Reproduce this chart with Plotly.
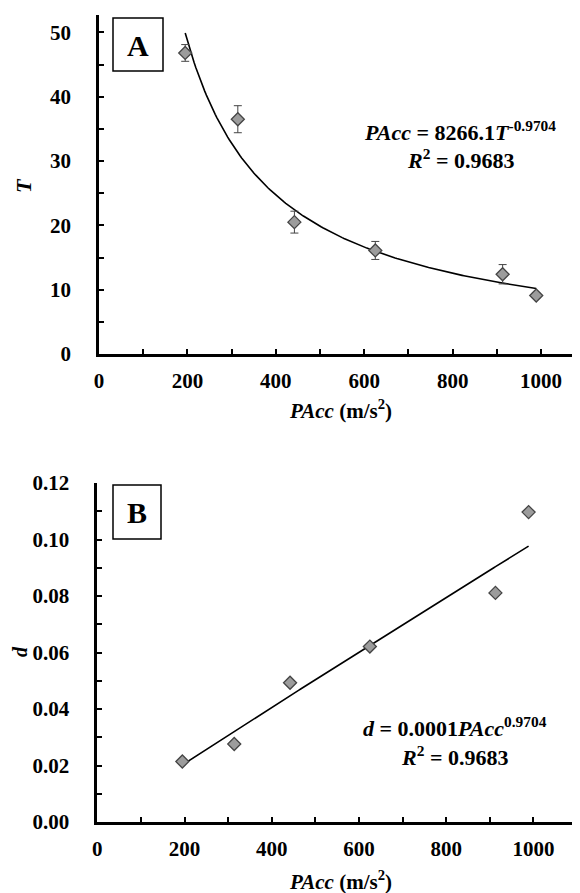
import numpy as np
import plotly.graph_objects as go

# ---- data ----
pacc = [195, 314, 442, 625, 913, 989]
T_vals = [46.8, 36.5, 20.5, 16.1, 12.4, 9.1]
T_err = [1.3, 2.1, 1.7, 1.4, 1.5, 0.4]
d_vals = [0.0214, 0.0276, 0.0493, 0.0621, 0.0811, 0.1097]

# power-law trend lines (y = a * x^b), as drawn
fitA_a, fitA_b = 8663.0, -0.978
fitB_a, fitB_b = 1.211e-4, 0.9704

eqA = "<i>PAcc</i> = 8266.1<i>T</i><sup>-0.9704</sup>"
eqB = "<i>d</i> = 0.0001<i>PAcc</i><sup>0.9704</sup>"
r2 = "<i>R</i><sup>2</sup> = 0.9683"
xtitle = "<i>PAcc</i> (m/s<sup>2</sup>)"

# page body has an 8px margin; figure fills the rest of the 580x893 window
OFF = 8
W, H = 580 - OFF, 893 - OFF
FONT = "Liberation Serif"

def px(x):
    return (x - OFF) / W

def py(y):
    return 1 - (y - OFF) / H

xs = np.linspace(min(pacc), max(pacc), 200)
fitA = fitA_a * xs ** fitA_b
fitB = fitB_a * xs ** fitB_b

fig = go.Figure()
marker = dict(symbol="diamond", size=10, color="#9c9c9c",
              line=dict(color="#444444", width=1.3))

fig.add_trace(go.Scatter(x=xs, y=fitA, mode="lines", line=dict(color="black", width=1.6),
                         xaxis="x", yaxis="y", showlegend=False))
fig.add_trace(go.Scatter(x=pacc, y=T_vals, mode="markers", marker=marker,
                         error_y=dict(type="data", array=T_err, color="#444444", thickness=1, width=4),
                         xaxis="x", yaxis="y", showlegend=False))
fig.add_trace(go.Scatter(x=xs, y=fitB, mode="lines", line=dict(color="black", width=1.6),
                         xaxis="x2", yaxis="y2", showlegend=False))
fig.add_trace(go.Scatter(x=pacc, y=d_vals, mode="markers", marker=marker,
                         xaxis="x2", yaxis="y2", showlegend=False))

tickfont = dict(family=FONT, size=21, color="black", weight="bold")
minor_style = dict(ticks="inside", ticklen=5, tickwidth=1.5, tickcolor="black")
axis_common = dict(showline=True, linecolor="black", linewidth=2.5, showgrid=False,
                   zeroline=False, ticks="inside", ticklen=5, tickwidth=1.5,
                   tickcolor="black", tickfont=tickfont, mirror=False, automargin=False)

fig.update_layout(
    width=W, height=H, margin=dict(l=0, r=0, t=0, b=0, autoexpand=False),
    paper_bgcolor="white", plot_bgcolor="white",
    font=dict(family=FONT, color="black"),
    xaxis=dict(axis_common, domain=[px(99), 1], range=[0, 1088], dtick=200,
               minor=dict(minor_style, dtick=100), anchor="y", ticklabelstandoff=6),
    yaxis=dict(axis_common, domain=[py(354), py(15)], range=[0, 52.7], dtick=10,
               minor=dict(minor_style, dtick=5), anchor="x", ticklabelstandoff=21),
    xaxis2=dict(axis_common, domain=[px(97.3), px(577)], range=[0, 1100], dtick=200,
                minor=dict(minor_style, dtick=100), anchor="y2", ticklabelstandoff=6),
    yaxis2=dict(axis_common, domain=[py(822), py(483)], range=[0, 0.12], dtick=0.02,
                tickformat=".2f", minor=dict(minor_style, dtick=0.01), anchor="x2",
                ticklabelstandoff=21),
)

def note(text, x, y, size, angle=0):
    fig.add_annotation(text=text, x=px(x), y=py(y), xref="paper", yref="paper",
                       xanchor="center", yanchor="middle", showarrow=False,
                       textangle=angle,
                       font=dict(family=FONT, size=size, color="black", weight="bold"))

# axis titles
note(xtitle, 340, 410, 21)
note(xtitle, 340, 880, 21)
note("<i>T</i>", 23, 186, 22, -90)
note("<i>d</i>", 20, 652, 20, -90)

# panel labels
for lab, (x0, y0, x1, y1) in {"A": (113, 18, 163, 71), "B": (113, 485, 161, 539)}.items():
    fig.add_shape(type="rect", xref="paper", yref="paper", layer="below",
                  x0=px(x0), x1=px(x1), y0=py(y1), y1=py(y0),
                  line=dict(color="black", width=1.5), fillcolor="white")
    note(lab, (x0 + x1) / 2, (y0 + y1) / 2 + 1, 30)

# equations
note(eqA, 460, 131, 22)
note(r2, 460, 159, 22)
note(eqB, 455, 727, 22)
note(r2, 454, 756, 22)

fig.write_html("out.html")
